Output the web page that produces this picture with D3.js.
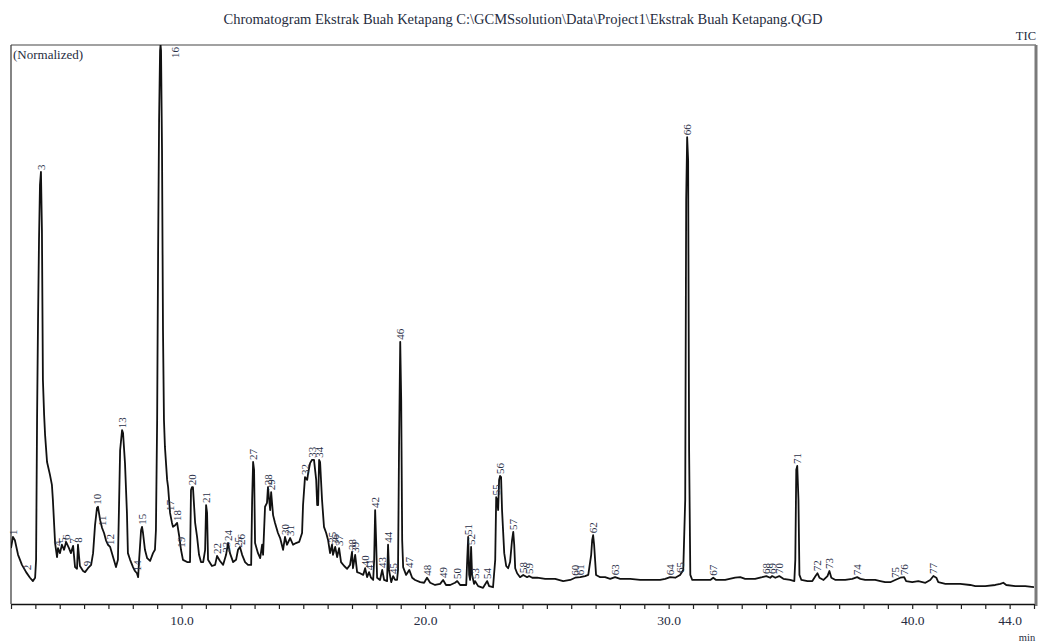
<!DOCTYPE html>
<html>
<head>
<meta charset="utf-8">
<script src="https://cdn.jsdelivr.net/npm/d3@7"></script>
<style>
  body { margin: 0; background: #fff; }
  svg text { font-family: "Liberation Serif", "Times New Roman", serif; }
</style>
</head>
<body>
<svg id="chart" width="1041" height="643"></svg>
<script>
// Total ion chromatogram, retention time (min) vs normalized intensity (%)
const retentionTime = [
  3.00, 3.08, 3.16, 3.29, 3.45, 3.62, 3.78, 3.90, 3.99, 4.03, 4.07, 4.11, 4.15, 4.19, 4.23, 4.27, 4.31, 4.36, 4.40, 4.48,
  4.60, 4.68, 4.72, 4.81, 4.89, 4.93, 5.01, 5.09, 5.18, 5.26, 5.38, 5.46, 5.55, 5.63, 5.71, 5.75, 5.83, 5.96, 6.04, 6.16,
  6.29, 6.37, 6.45, 6.53, 6.57, 6.66, 6.74, 6.82, 6.90, 6.98, 7.07, 7.19, 7.31, 7.39, 7.44, 7.48, 7.56, 7.60, 7.68, 7.76,
  7.80, 7.89, 8.01, 8.09, 8.17, 8.22, 8.26, 8.34, 8.38, 8.42, 8.50, 8.59, 8.71, 8.83, 8.91, 8.95, 9.00, 9.04, 9.08, 9.12,
  9.14, 9.16, 9.20, 9.24, 9.28, 9.32, 9.41, 9.45, 9.53, 9.61, 9.65, 9.74, 9.82, 9.90, 9.98, 10.06, 10.23, 10.35, 10.39, 10.43,
  10.47, 10.56, 10.64, 10.72, 10.80, 10.89, 10.97, 11.01, 11.05, 11.09, 11.25, 11.38, 11.46, 11.58, 11.71, 11.83, 11.91, 11.99, 12.12, 12.24,
  12.32, 12.40, 12.49, 12.61, 12.73, 12.86, 12.90, 12.94, 12.98, 13.02, 13.14, 13.23, 13.31, 13.35, 13.43, 13.51, 13.55, 13.60, 13.64, 13.68,
  13.76, 13.84, 13.96, 14.05, 14.17, 14.25, 14.33, 14.46, 14.58, 14.70, 14.83, 14.95, 14.99, 15.07, 15.16, 15.20, 15.28, 15.36, 15.44, 15.53,
  15.57, 15.61, 15.65, 15.69, 15.77, 15.85, 15.94, 16.02, 16.10, 16.18, 16.22, 16.31, 16.39, 16.47, 16.55, 16.68, 16.80, 16.92, 17.00, 17.04,
  17.13, 17.21, 17.33, 17.46, 17.54, 17.62, 17.70, 17.78, 17.87, 17.91, 17.95, 17.99, 18.03, 18.15, 18.24, 18.32, 18.44, 18.48, 18.52, 18.61,
  18.69, 18.77, 18.85, 18.89, 18.93, 18.98, 19.02, 19.06, 19.10, 19.22, 19.35, 19.47, 19.59, 19.80, 19.96, 20.08, 20.21, 20.41, 20.62, 20.74,
  20.86, 21.03, 21.23, 21.32, 21.44, 21.69, 21.73, 21.77, 21.81, 21.85, 21.89, 21.93, 22.01, 22.05, 22.18, 22.38, 22.55, 22.63, 22.79, 22.88,
  22.92, 22.96, 23.00, 23.04, 23.08, 23.12, 23.16, 23.25, 23.33, 23.41, 23.49, 23.57, 23.62, 23.66, 23.70, 23.78, 23.90, 24.03, 24.19, 24.27,
  24.40, 24.60, 24.93, 25.34, 25.67, 25.96, 26.16, 26.37, 26.57, 26.70, 26.82, 26.86, 26.90, 26.94, 27.02, 27.19, 27.39, 27.60, 27.80, 28.01,
  28.42, 28.83, 29.24, 29.65, 29.86, 30.06, 30.27, 30.47, 30.60, 30.68, 30.72, 30.76, 30.80, 30.84, 30.89, 30.97, 31.30, 31.71, 31.83, 31.95,
  32.32, 32.73, 32.94, 33.14, 33.55, 33.84, 34.01, 34.17, 34.25, 34.38, 34.54, 34.71, 34.99, 35.16, 35.20, 35.24, 35.28, 35.33, 35.37, 35.45,
  35.70, 35.90, 36.03, 36.11, 36.19, 36.36, 36.52, 36.60, 36.68, 36.85, 37.05, 37.25, 37.54, 37.74, 37.87, 38.07, 38.28, 38.48, 38.69, 38.89,
  39.10, 39.30, 39.51, 39.67, 39.75, 40.00, 40.25, 40.54, 40.74, 40.87, 40.99, 41.07, 41.36, 41.64, 41.97, 42.38, 42.59, 43.00, 43.41, 43.62,
  43.74, 43.86, 44.23, 44.64, 45.00
];

const intensity = [
  10.0, 12.0, 11.4, 8.8, 7.0, 5.7, 4.7, 4.1, 4.7, 7.9, 32.9, 50.8, 65.1, 75.0, 77.3, 66.9, 40.1, 33.8, 30.2, 25.4,
  23.1, 21.3, 18.6, 10.9, 8.4, 10.0, 9.1, 10.6, 9.7, 11.1, 10.0, 9.1, 10.4, 6.6, 6.3, 10.6, 6.8, 5.9, 5.7, 6.4,
  7.0, 9.1, 14.1, 17.2, 17.4, 15.0, 13.6, 12.7, 11.4, 10.6, 10.2, 8.4, 6.6, 7.9, 18.6, 27.5, 31.1, 30.6, 25.2, 16.3,
  9.1, 7.9, 6.6, 5.9, 5.5, 4.8, 7.9, 13.2, 13.8, 12.7, 9.7, 8.2, 7.7, 9.1, 9.7, 13.2, 32.9, 63.3, 86.6, 99.0,
  100.0, 99.0, 81.2, 49.0, 32.9, 28.1, 22.2, 20.9, 16.3, 14.5, 13.8, 14.1, 14.5, 12.3, 9.7, 7.9, 7.5, 7.5, 20.4, 20.9,
  20.9, 14.5, 12.0, 8.8, 7.5, 7.5, 9.7, 17.7, 16.3, 7.9, 6.8, 7.0, 8.6, 7.7, 7.0, 8.8, 10.9, 9.1, 7.5, 7.9,
  9.7, 10.2, 8.8, 7.5, 7.0, 7.0, 18.6, 25.4, 24.0, 10.9, 9.1, 8.2, 10.6, 8.8, 17.4, 18.1, 20.9, 18.6, 16.8, 20.0,
  15.9, 14.5, 12.7, 11.8, 9.7, 12.0, 10.6, 11.8, 10.6, 10.9, 11.1, 12.7, 17.7, 22.7, 22.2, 23.4, 25.2, 25.8, 25.8, 22.2,
  17.7, 17.7, 25.8, 25.4, 18.6, 13.8, 12.7, 11.4, 9.1, 10.6, 8.8, 10.2, 8.4, 10.0, 7.5, 6.8, 6.3, 7.0, 9.3, 6.4,
  8.8, 5.7, 5.5, 5.2, 6.4, 4.8, 5.7, 4.7, 4.3, 7.9, 16.8, 11.4, 4.7, 4.3, 6.1, 4.3, 4.1, 10.6, 6.1, 3.9,
  5.0, 4.3, 4.3, 6.1, 27.5, 46.9, 36.5, 11.4, 6.6, 5.2, 6.1, 4.7, 4.3, 3.9, 3.8, 4.7, 3.8, 3.4, 3.6, 4.3,
  3.4, 3.4, 3.8, 4.1, 3.4, 3.4, 7.9, 12.0, 5.2, 4.3, 10.2, 5.2, 3.6, 4.1, 3.2, 2.9, 4.1, 3.2, 3.0, 7.9,
  19.1, 18.6, 16.8, 22.2, 22.9, 22.7, 16.8, 9.1, 6.8, 6.4, 7.5, 11.4, 12.9, 10.6, 6.4, 5.5, 4.8, 5.2, 4.8, 5.0,
  4.7, 4.7, 4.5, 4.5, 4.1, 4.3, 4.7, 4.8, 5.0, 5.2, 8.8, 11.4, 12.3, 10.6, 5.2, 4.8, 4.8, 4.5, 4.8, 4.5,
  4.5, 4.3, 4.3, 4.3, 4.5, 4.8, 4.7, 5.2, 6.1, 18.6, 72.3, 83.5, 79.4, 27.5, 5.2, 4.3, 4.3, 4.3, 4.7, 4.3,
  4.3, 4.7, 4.8, 4.5, 4.5, 4.8, 5.0, 4.7, 5.0, 4.7, 5.0, 4.5, 4.3, 4.1, 7.9, 24.0, 24.7, 18.6, 5.2, 4.3,
  4.1, 4.1, 5.0, 5.5, 4.7, 4.3, 5.0, 5.9, 4.7, 4.3, 4.3, 4.3, 4.5, 4.8, 4.5, 4.3, 4.3, 4.3, 4.1, 3.9,
  3.9, 4.3, 4.7, 4.8, 4.1, 3.9, 4.1, 3.8, 4.3, 5.0, 4.7, 3.9, 3.6, 3.6, 3.6, 3.4, 3.2, 3.2, 3.4, 3.6,
  3.8, 3.4, 3.2, 3.2, 3.0
];

// Integrated peaks: number and retention time (min)
const peakNumbers = [
  1, 2, 3, 4, 5, 6, 7, 8, 9, 10, 11, 12, 13, 14, 15, 16, 17, 18, 19, 20,
  21, 22, 23, 24, 25, 26, 27, 28, 29, 30, 31, 32, 33, 34, 35, 36, 37, 38, 39, 40,
  41, 42, 43, 44, 45, 46, 47, 48, 49, 50, 51, 52, 53, 54, 55, 56, 57, 58, 59, 60,
  61, 62, 63, 64, 65, 66, 67, 68, 69, 70, 71, 72, 73, 74, 75, 76, 77
];
const peakTimes = [
  3.08, 3.65, 4.23, 4.89, 5.09, 5.26, 5.55, 5.75, 6.12, 6.55, 6.74, 7.07, 7.56, 8.17, 8.38, 9.14, 9.53, 9.82, 9.98, 10.43,
  11.01, 11.46, 11.83, 11.91, 12.32, 12.45, 12.94, 13.55, 13.68, 14.25, 14.46, 15.07, 15.36, 15.65, 16.18, 16.31, 16.47, 17.00, 17.13, 17.54,
  17.70, 17.95, 18.24, 18.48, 18.69, 18.98, 19.35, 20.08, 20.74, 21.32, 21.77, 21.89, 22.05, 22.55, 22.92, 23.08, 23.62, 24.03, 24.27, 26.16,
  26.37, 26.90, 27.80, 30.06, 30.47, 30.76, 31.83, 34.01, 34.25, 34.54, 35.28, 36.11, 36.60, 37.74, 39.30, 39.67, 40.87
];

// Time axis
const minorTicks = [3, 4, 5, 6, 7, 8, 9, 10, 11, 12, 13, 14, 15, 16, 17, 18, 19, 20, 21, 22, 23, 24,
  25, 26, 27, 28, 29, 30, 31, 32, 33, 34, 35, 36, 37, 38, 39, 40, 41, 42, 43, 44, 45];
const labelTicks = [10, 20, 30, 40, 44];
const labelTexts = ["10.0", "20.0", "30.0", "40.0", "44.0"];

const titleText = "Chromatogram Ekstrak Buah Ketapang C:\\GCMSsolution\\Data\\Project1\\Ekstrak Buah Ketapang.QGD";

const svg = d3.select("#chart");
const plotLeft = 11, plotRight = 1034, plotTop = 45, plotBottom = 604;
const textColor = "#262c40";

const x = d3.scaleLinear().domain([3, 45]).range([plotLeft, plotRight]);
const y = d3.scaleLinear().domain([0, 100]).range([plotBottom, plotTop]);

const trace = retentionTime.map((t, i) => [t, intensity[i]]);

// Title and header texts
svg.append("text")
  .attr("x", 523).attr("y", 24)
  .attr("text-anchor", "middle")
  .attr("font-size", 14.5)
  .attr("fill", textColor)
  .text(titleText);

svg.append("text")
  .attr("x", 1036).attr("y", 40)
  .attr("text-anchor", "end")
  .attr("font-size", 12.5)
  .attr("fill", textColor)
  .text("TIC");

// Frame
svg.append("line").attr("x1", plotLeft).attr("x2", plotLeft).attr("y1", plotTop).attr("y2", plotBottom)
  .attr("stroke", "#333").attr("stroke-width", 1.2);
svg.append("line").attr("x1", plotLeft).attr("x2", plotRight + 2).attr("y1", plotTop).attr("y2", plotTop)
  .attr("stroke", "#444").attr("stroke-width", 1.2);
svg.append("line").attr("x1", plotRight + 2).attr("x2", plotRight + 2).attr("y1", plotTop).attr("y2", plotBottom + 2)
  .attr("stroke", "#7a7a7a").attr("stroke-width", 3);

svg.append("text")
  .attr("x", plotLeft + 2).attr("y", plotTop + 14)
  .attr("font-size", 13)
  .attr("fill", textColor)
  .text("(Normalized)");

// Chromatogram trace, clipped to the plot frame
svg.append("clipPath").attr("id", "plot-clip")
  .append("rect").attr("x", plotLeft).attr("y", plotTop)
  .attr("width", plotRight - plotLeft).attr("height", plotBottom - plotTop);

const line = d3.line().x(d => x(d[0])).y(d => y(d[1]));
svg.append("path")
  .datum(trace)
  .attr("clip-path", "url(#plot-clip)")
  .attr("fill", "none")
  .attr("stroke", "#111")
  .attr("stroke-width", 1.8)
  .attr("stroke-linejoin", "round")
  .attr("d", line);

// Time axis along the bottom
const axis = d3.axisBottom(x)
  .tickValues(minorTicks)
  .tickSize(5)
  .tickSizeOuter(0)
  .tickFormat(d => {
    const k = labelTicks.indexOf(d);
    return k >= 0 ? labelTexts[k] : "";
  });

const gAxis = svg.append("g").attr("transform", `translate(0,${plotBottom})`).call(axis);
gAxis.select(".domain").attr("stroke", "#111").attr("stroke-width", 1.6);
gAxis.selectAll(".tick line").attr("stroke", "#222").attr("stroke-width", 1.2);
gAxis.selectAll(".tick text")
  .attr("y", 11)
  .attr("font-size", 13.5)
  .attr("fill", textColor);

svg.append("text")
  .attr("x", 1027).attr("y", 641)
  .attr("text-anchor", "middle")
  .attr("font-size", 10.5)
  .attr("fill", textColor)
  .text("min");

// Peak number labels at each apex, written vertically
function apexValue(t) {
  const near = trace.filter(d => Math.abs(d[0] - t) <= 0.05);
  if (near.length) return d3.max(near, d => d[1]);
  const i = d3.bisector(d => d[0]).left(trace, t);
  const a = trace[Math.max(0, i - 1)], b = trace[Math.min(trace.length - 1, i)];
  return a[1] + (b[1] - a[1]) * ((t - a[0]) / ((b[0] - a[0]) || 1));
}

const labelSize = 11;
const gLabels = svg.append("g").attr("font-size", labelSize).attr("fill", "#2a3048");
peakNumbers.forEach((n, i) => {
  const t = peakTimes[i];
  const len = String(n).length * labelSize * 0.5;
  let px = x(t), py = y(apexValue(t)) - 2;
  if (py - len < plotTop + 1) {       // peak runs past the frame: label inside, beside it
    px += 14;
    py = plotTop + 2 + len;
  }
  gLabels.append("text")
    .attr("transform", `translate(${px},${py}) rotate(-90)`)
    .attr("dominant-baseline", "central")
    .attr("text-anchor", "start")
    .text(n);
});
</script>
</body>
</html>
